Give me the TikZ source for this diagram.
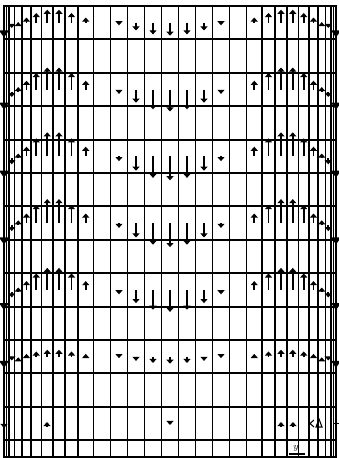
\documentclass[tikz,border=0pt]{standalone}
\usetikzlibrary{arrows.meta}
\begin{document}
\begin{tikzpicture}[
    x=0.3mm, y=-0.3mm,
    grid/.style={line width=1.6pt, black},
    frame/.style={line width=2pt, black},
    vec/.style={line width=1.5pt, -{Triangle[width=6pt,length=3.5pt]}},
    edgevec/.style={line width=2pt, -{Triangle[width=8pt,length=6pt]}},
    marker/.style={line width=1pt, -{Triangle[width=6pt,length=3.5pt]}}
]
\useasboundingbox (0,0) rectangle (339,458);

% ------- grid: vertical lines, offsets from the centre x=170 -------
\foreach \d in {8.5,25.5,42.5,59.5,76.5,92,105,117,128.5,139,148,155.5,161,163.5} {
    \draw[grid] (170-\d,6) -- (170-\d,457);
    \draw[grid] (170+\d,6) -- (170+\d,457);
}
% horizontal lines
\foreach \k in {1,...,13} {
    \draw[grid] (4,6+33.4*\k) -- (336,6+33.4*\k);
}
\draw[frame] (4,6) rectangle (336,457);

% ------- velocity rows (every second band) -------
\foreach \g/\amp in {0/13,1/22,2/24,3/24,4/22,5/7} {
    \pgfmathsetmacro\yb{22.7+66.8*\g}
    % downward flow in the middle
    \draw[vec] (170,\yb) -- ++(0,\amp);
    \foreach \d/\f in {17/0.9, 34/0.6, 51/0.2} {
        \draw[vec] (170-\d,\yb) -- ++(0,\f*\amp);
        \draw[vec] (170+\d,\yb) -- ++(0,\f*\amp);
    }
    % upward flow on both sides
    \foreach \d/\f in {84.25/0.4, 98.5/0.75, 111/1, 122.75/1, 133.75/0.75, 143.5/0.4} {
        \draw[vec] (170-\d,\yb) -- ++(0,-\f*\amp);
        \draw[vec] (170+\d,\yb) -- ++(0,-\f*\amp);
    }
    % near the edges
    \draw[vec] (18.25,\yb+2) -- ++(0,-0.2*\amp);
    \draw[vec] (321.75,\yb+2) -- ++(0,-0.2*\amp);
    \draw[vec] (11.75,\yb+2) -- ++(0,0.25*\amp);
    \draw[vec] (328.25,\yb+2) -- ++(0,0.25*\amp);
    \draw[edgevec] (4,\yb+2) -- ++(0,0.6*\amp+5);
    \draw[edgevec] (336,\yb+2) -- ++(0,0.6*\amp+5);
}

% ------- bottom row: markers only -------
\draw[marker] (47,426) -- (47,422);
\draw[marker] (170,421) -- (170,425);
\draw[marker] (281,426) -- (281,422);
\draw[marker] (293,426) -- (293,422);
\draw[line width=0.9pt] (314,420) -- (310,423.5) -- (314,427);
\draw[line width=0.9pt] (319,419) -- (322,427) -- (316,427) -- cycle;
\draw[marker] (4,420) -- (4,428);
\draw[line width=1.2pt] (333,423.5) -- (339,423.5);

% axis label
\node[font=\footnotesize, inner sep=0pt] (ylab) at (296,448) {$y$};
\draw[line width=0.9pt] (289,454) -- (305,454);
\end{tikzpicture}
\end{document}
